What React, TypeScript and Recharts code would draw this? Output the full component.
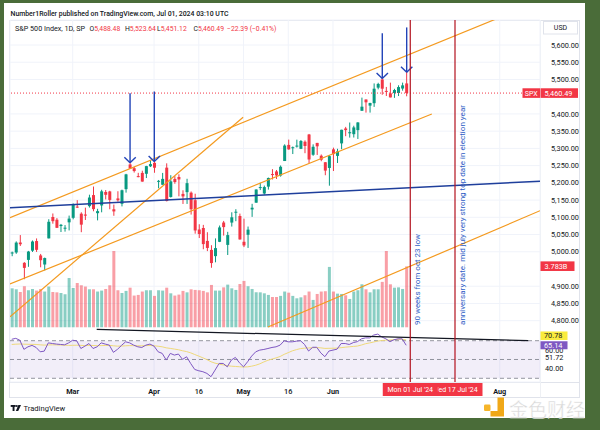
import React from 'react';
import {
  ComposedChart, Bar, Line, XAxis, YAxis, CartesianGrid,
  ReferenceLine, ReferenceArea, ReferenceDot, Cell,
} from 'recharts';

// ---------------- DATA ----------------
const dates = [
  '2024-02-08','2024-02-09','2024-02-12','2024-02-13','2024-02-14','2024-02-15','2024-02-16','2024-02-20','2024-02-21','2024-02-22',
  '2024-02-23','2024-02-26','2024-02-27','2024-02-28','2024-02-29','2024-03-01','2024-03-04','2024-03-05','2024-03-06','2024-03-07',
  '2024-03-08','2024-03-11','2024-03-12','2024-03-13','2024-03-14','2024-03-15','2024-03-18','2024-03-19','2024-03-20','2024-03-21',
  '2024-03-22','2024-03-25','2024-03-26','2024-03-27','2024-03-28','2024-04-01','2024-04-02','2024-04-03','2024-04-04','2024-04-05',
  '2024-04-08','2024-04-09','2024-04-10','2024-04-11','2024-04-12','2024-04-15','2024-04-16','2024-04-17','2024-04-18','2024-04-19',
  '2024-04-22','2024-04-23','2024-04-24','2024-04-25','2024-04-26','2024-04-29','2024-04-30','2024-05-01','2024-05-02','2024-05-03',
  '2024-05-06','2024-05-07','2024-05-08','2024-05-09','2024-05-10','2024-05-13','2024-05-14','2024-05-15','2024-05-16','2024-05-17',
  '2024-05-20','2024-05-21','2024-05-22','2024-05-23','2024-05-24','2024-05-28','2024-05-29','2024-05-30','2024-05-31','2024-06-03',
  '2024-06-04','2024-06-05','2024-06-06','2024-06-07','2024-06-10','2024-06-11','2024-06-12','2024-06-13','2024-06-14','2024-06-17',
  '2024-06-18','2024-06-20','2024-06-21','2024-06-24','2024-06-25','2024-06-26','2024-06-27','2024-06-28',
];

const opens = [
  4995.2,4997.9,5026.8,4967.9,4976.4,5003.1,5031.1,4989.3,4963.0,5038.8,
  5100.9,5093.0,5074.6,5067.2,5085.4,5098.5,5131.0,5110.5,5108.0,5132.4,
  5164.5,5112.0,5134.3,5173.5,5175.1,5123.3,5154.8,5139.1,5181.7,5253.4,
  5242.5,5219.5,5228.9,5226.3,5248.0,5258.0,5204.3,5194.4,5244.1,5159.0,
  5211.4,5217.0,5167.9,5173.0,5171.5,5149.7,5064.6,5069.0,5031.5,5005.4,
  4987.3,5028.9,5084.9,5019.9,5084.7,5114.1,5103.8,5029.0,5049.3,5122.8,
  5142.4,5187.2,5169.0,5189.0,5225.5,5233.1,5221.1,5263.3,5310.1,5303.1,
  5305.4,5298.7,5319.3,5340.3,5281.5,5315.9,5278.7,5259.8,5243.2,5297.2,
  5278.2,5314.5,5357.8,5343.8,5341.2,5353.0,5409.1,5441.9,5424.1,5431.1,
  5476.2,5500.0,5466.8,5459.6,5460.7,5460.7,5473.6,5488.5,
];
const highs = [
  5000.4,5030.1,5048.4,4969.9,5002.5,5032.7,5038.7,4993.7,4983.2,5094.4,
  5111.1,5097.7,5080.7,5077.4,5105.0,5140.3,5149.7,5114.5,5128.0,5165.6,
  5189.3,5124.7,5179.9,5179.1,5176.9,5136.9,5175.6,5180.3,5226.2,5261.1,
  5246.1,5229.1,5235.2,5249.3,5264.9,5264.0,5208.3,5228.8,5256.6,5222.2,
  5219.6,5224.8,5178.4,5211.8,5175.0,5168.4,5079.8,5078.0,5056.7,5019.0,
  5038.8,5076.1,5089.5,5057.8,5114.6,5123.5,5110.8,5096.1,5073.2,5139.1,
  5181.0,5200.2,5192.0,5215.3,5239.7,5237.3,5250.4,5311.8,5325.5,5305.5,
  5325.3,5324.3,5323.2,5341.9,5311.7,5315.9,5282.3,5260.2,5280.3,5302.1,
  5298.8,5354.2,5362.4,5375.1,5365.8,5376.0,5447.3,5441.9,5432.4,5488.5,
  5490.4,5505.5,5478.3,5490.8,5472.9,5483.1,5490.8,5523.6,
];
const lows = [
  4987.1,4994.0,5016.8,4920.3,4956.3,4999.4,4999.5,4955.0,4946.0,5038.8,
  5081.5,5068.9,5057.3,5058.4,5061.9,5094.2,5127.2,5056.8,5092.2,5128.2,
  5117.5,5091.1,5114.5,5151.9,5123.3,5104.4,5145.5,5131.6,5171.6,5240.7,
  5229.9,5216.1,5203.4,5213.9,5245.8,5229.2,5184.1,5194.4,5146.1,5157.2,
  5197.4,5160.8,5138.7,5138.8,5107.9,5052.5,5039.8,5007.3,5001.9,4953.6,
  4969.4,5028.0,5047.0,4990.6,5073.1,5088.7,5035.3,5013.5,5011.1,5101.2,
  5142.4,5179.0,5165.9,5180.4,5209.7,5211.2,5218.0,5263.3,5296.2,5283.6,
  5302.4,5297.9,5286.0,5256.9,5278.4,5280.9,5262.7,5222.1,5191.7,5234.3,
  5257.6,5297.6,5335.4,5331.3,5331.5,5327.3,5409.1,5403.8,5403.8,5420.4,
  5471.3,5455.6,5452.0,5447.9,5446.6,5451.9,5467.5,5451.1,
];
const closes = [
  4997.9,5026.6,5021.8,4953.2,5000.6,5029.7,5005.6,4975.5,4981.8,5087.0,
  5088.8,5069.5,5078.2,5069.8,5096.3,5137.1,5130.9,5078.7,5104.8,5157.4,
  5123.7,5117.9,5175.3,5165.3,5150.5,5117.1,5149.4,5178.5,5224.6,5241.5,
  5234.2,5218.2,5203.6,5248.5,5254.4,5243.8,5205.8,5211.5,5147.2,5204.3,
  5202.4,5209.9,5160.6,5199.1,5123.4,5061.8,5051.4,5022.2,5011.1,4967.2,
  5010.6,5070.6,5071.6,5048.4,5100.0,5116.2,5035.7,5018.4,5064.2,5127.8,
  5180.7,5187.7,5187.7,5214.1,5222.7,5221.4,5246.7,5308.2,5297.1,5303.3,
  5308.1,5321.4,5307.0,5267.8,5304.7,5306.0,5267.0,5235.5,5277.5,5283.4,
  5291.3,5354.0,5353.0,5347.0,5360.8,5375.3,5421.0,5433.7,5431.6,5473.2,
  5487.0,5473.2,5464.6,5447.9,5469.3,5477.9,5482.9,5460.49,
];
// volume, billions
const volumes = [
  2.42,2.36,2.19,2.55,2.30,2.38,2.28,2.38,2.22,2.53,
  2.19,2.17,2.13,2.05,3.06,2.44,2.75,2.61,2.53,2.36,
  2.36,2.22,2.28,2.38,2.61,4.74,2.30,2.13,2.26,2.46,
  1.97,2.01,2.22,2.30,2.30,1.95,2.30,2.28,2.46,2.11,
  1.97,2.03,2.26,2.17,2.36,2.32,2.30,2.26,2.17,2.63,
  2.28,2.28,2.48,2.65,2.42,2.32,2.69,2.88,2.55,2.38,
  2.17,2.17,2.11,2.01,1.88,1.88,1.95,2.22,2.15,1.95,
  1.80,1.86,1.99,2.22,1.70,2.07,2.22,2.24,3.75,2.22,
  2.09,2.07,1.99,1.76,2.22,2.30,2.67,2.36,2.17,2.36,
  2.36,2.82,4.74,2.67,2.46,2.48,2.38,3.783,
];
const rsiValues = [
  71.5,72.5,70.5,60.8,63.5,65.0,62.8,58.2,58.9,67.7,
  67.0,66.4,66.0,65.6,67.7,70.5,69.8,61.7,64.2,67.0,
  61.7,63.5,67.7,66.4,65.3,57.6,60.8,65.0,68.8,67.7,
  65.3,63.5,62.8,65.3,66.4,64.2,58.2,56.5,49.4,56.5,
  54.7,55.8,50.1,52.9,45.8,39.4,38.0,37.0,35.2,31.7,
  38.7,45.8,45.8,42.2,49.4,52.2,46.5,42.2,47.6,53.6,
  58.2,60.0,60.7,61.7,62.8,63.5,65.3,69.9,68.8,68.8,
  69.5,70.0,66.0,59.0,63.0,63.0,57.0,53.0,59.0,60.0,
  61.0,67.0,67.0,66.0,68.0,69.0,72.0,73.0,73.0,76.0,
  77.0,74.0,72.0,69.0,71.0,72.0,72.0,65.14,
];
const rsiMaValues = [
  66.0,66.3,66.5,66.3,66.2,66.1,66.0,65.6,65.3,65.5,
  65.6,65.5,65.4,65.2,65.0,65.1,65.2,65.0,64.8,65.0,
  64.9,64.7,64.8,64.9,65.0,64.6,64.2,64.3,64.6,64.8,
  64.7,64.6,64.6,64.8,64.9,64.6,64.1,63.5,62.4,61.8,
  61.1,60.4,59.3,58.4,57.1,55.3,53.6,51.8,49.9,47.6,
  46.1,45.1,44.2,43.4,42.9,42.6,42.3,42.0,42.2,42.9,
  43.9,45.4,47.4,49.2,50.4,51.7,53.2,55.5,57.3,59.2,
  60.5,61.6,62.1,62.3,62.5,62.7,62.4,61.8,61.9,62.0,
  62.1,62.6,63.1,63.5,63.9,64.3,65.4,66.8,67.6,68.6,
  69.6,70.2,70.6,70.7,71.1,71.5,71.6,70.78,
];

// time-axis ticks (trading-day index) and labels
const timeTickIndex = [16, 36, 47, 58, 69, 80, 121];
const timeTickLabels = ['Mar', 'Apr', '16', 'May', '16', 'Jun', 'Aug'];
// price-scale labels (5,450 and 4,950 sit under the value badges)
const priceTicks = [4800, 4850, 4900, 5000, 5050, 5100, 5150, 5200, 5250, 5300, 5350, 5400, 5500, 5550, 5600];
const rsiTicks = [60, 51.72, 40];
const rsiLevels = [70, 50, 30];

// drawings (trading-day index, price)
const orangeLines = [
  { x1: 0.58, y1: 5099.0, x2: 121.3, y2: 5681.3 },
  { x1: 0.58, y1: 4906.4, x2: 104.3, y2: 5399.8 },
  { x1: 0.58, y1: 4811.6, x2: 57.9, y2: 5390.2 },
  { x1: 64.0, y1: 4781.7, x2: 130.9, y2: 5119.1 },
];
const blueLines = [{ x1: 0.58, y1: 5127.6, x2: 130.9, y2: 5204.8 }];
const arrows = [
  { i: 30.1, top: 5460, tip: 5258 },
  { i: 36.06, top: 5465, tip: 5262 },
  { i: 92.12, top: 5634, tip: 5503 },
  { i: 98.12, top: 5651, tip: 5521 },
];
const rsiTrend = { x1: 21.9, y1: 82.1, x2: 128.0, y2: 70.0 };
const markers = [
  { i: 110, date: "Wed 17 Jul '24", note: 'anniversary date. mid july very strong top date in election year', len: 220 },
  { i: 99, date: "Mon 01 Jul '24", note: '90 weeks from oct 23 low', len: 91 },
];
const lastPrice = 5460.49;

// axis domains (shared plot area split into price pane + RSI pane)
const xDomain = [0.58, 130.9];
const priceDomain = [4622.06, 5672.55];
const volDomain = [-3.4, 19.09];
const rsiDomain = [26.06, 411.2];

// ---------------- STYLE ----------------
const FONT = 'Roboto, "Liberation Sans", Arial, sans-serif';
const UP = '#089981';
const DOWN = '#f23645';
const VOL_UP = 'rgba(8,153,129,0.48)';
const VOL_DOWN = 'rgba(242,54,69,0.48)';
const ORANGE = '#f49a1f';
const NAVY = '#1f3f9c';
const ARROW = '#2244b8';
const TEXT = '#131722';
const GREEN_BG = '#4a6c39';

const data = dates.map((d, k) => ({
  i: k + 1,
  date: d,
  range: [lows[k], highs[k]],
  open: opens[k],
  close: closes[k],
  vol: volumes[k],
  rsi: rsiValues[k],
  ma: rsiMaValues[k],
}));

const fmt2 = (v: number) =>
  v.toLocaleString('en-US', { minimumFractionDigits: 2, maximumFractionDigits: 2 });

const Candle = (props: any) => {
  const { x, y, width, height, payload } = props;
  if (!payload || x == null || y == null) return null;
  const top = height < 0 ? y + height : y;
  const h = Math.abs(height);
  const [lo, hi] = payload.range;
  const k = hi - lo > 0 ? h / (hi - lo) : 0;
  const yO = top + (hi - payload.open) * k;
  const yC = top + (hi - payload.close) * k;
  const color = payload.close >= payload.open ? UP : DOWN;
  const cx = x + width / 2;
  const bTop = Math.min(yO, yC);
  const bH = Math.max(1, Math.abs(yO - yC));
  return (
    <g>
      <line x1={cx} x2={cx} y1={top} y2={top + h} stroke={color} strokeWidth={1} />
      <rect x={x} y={bTop} width={width} height={bH} fill={color} />
    </g>
  );
};

const PriceTick = (p: any) => (
  <text x={p.x + 3} y={p.y + 2.6} fontSize={7.3} fill={TEXT} fontFamily={FONT}>
    {fmt2(p.payload.value)}
  </text>
);

const TimeTick = (p: any) => {
  const k = timeTickIndex.indexOf(p.payload.value);
  const label = k >= 0 ? timeTickLabels[k] : '';
  const isDay = /^\d/.test(label);
  return (
    <text x={p.x} y={393.5} textAnchor="middle" fontSize={7.3} fontWeight={isDay ? 500 : 700} fill={TEXT} fontFamily={FONT}>
      {label}
    </text>
  );
};

const markerLabel = (date: string, note: string, len: number) => (props: any) => {
  const vb = props.viewBox || {};
  const x = vb.x;
  const bottom = Math.max(vb.y, vb.y + (vb.height || 0));
  return (
    <g>
      <text
        transform={`translate(${x + 9.8}, ${bottom - 57}) rotate(-90)`}
        fontSize={7.4}
        fill="#2c5cc5"
        fontFamily={FONT}
        textLength={len}
        lengthAdjust="spacingAndGlyphs"
      >
        {note}
      </text>
      <rect x={x - 27.5} y={bottom + 1} width={55} height={13} fill={DOWN} />
      <text x={x} y={bottom + 10.3} textAnchor="middle" fontSize={7} fill="#fff" fontFamily={FONT}>
        {date}
      </text>
    </g>
  );
};

export default function App() {
  return (
    <div style={{ position: 'fixed', left: 0, top: 0, width: 600, height: 430, background: GREEN_BG, overflow: 'hidden' }}>
      <div style={{ position: 'absolute', left: 4, top: 3, width: 581, height: 415, background: '#ffffff' }} />
      <svg width={600} height={430} style={{ position: 'absolute', left: 0, top: 0 }}>
        <rect x={9.5} y={20.5} width={570} height={377} fill="none" stroke="#e0e3eb" strokeWidth={1} />
        <line x1={9.5} x2={579.5} y1={382.5} y2={382.5} stroke="#e0e3eb" />
        <line x1={540.5} x2={540.5} y1={20.5} y2={397.5} stroke="#eef0f4" />
      </svg>
      <div style={{ position: 'absolute', left: 0, top: 0 }}>
        <ComposedChart
          width={600}
          height={430}
          data={data}
          margin={{ top: 20, right: 15, left: 10, bottom: 28 }}
        >
          <CartesianGrid xAxisId="x" yAxisId="price" stroke="#f0f3fa" strokeWidth={1} />
          <XAxis
            xAxisId="x"
            dataKey="i"
            type="number"
            domain={xDomain}
            allowDataOverflow
            ticks={timeTickIndex}
            interval={0}
            axisLine={false}
            tickLine={false}
            height={20}
            tick={TimeTick}
          />
          <XAxis xAxisId="xv" dataKey="i" type="number" domain={xDomain} allowDataOverflow hide />
          <YAxis
            yAxisId="price"
            orientation="right"
            width={45}
            type="number"
            domain={priceDomain}
            allowDataOverflow
            ticks={priceTicks}
            interval={0}
            axisLine={false}
            tickLine={false}
            tick={PriceTick}
          />
          <YAxis yAxisId="rsi" type="number" domain={rsiDomain} allowDataOverflow hide />
          <YAxis yAxisId="vol" type="number" domain={volDomain} allowDataOverflow hide />

          <ReferenceArea xAxisId="x" yAxisId="rsi" y1={30} y2={70} fill="#7e57c2" fillOpacity={0.1} stroke="none" ifOverflow="visible" />
          {rsiLevels.map((lv) => (
            <ReferenceLine key={lv} xAxisId="x" yAxisId="rsi" y={lv} stroke="#787b86" strokeDasharray="4 3" strokeWidth={0.8} />
          ))}

          <Bar xAxisId="xv" yAxisId="vol" dataKey="vol" barSize={3} isAnimationActive={false}>
            {data.map((d) => (
              <Cell key={d.i} fill={d.close >= d.open ? VOL_UP : VOL_DOWN} />
            ))}
          </Bar>
          <Bar xAxisId="x" yAxisId="price" dataKey="range" barSize={3} shape={Candle} isAnimationActive={false} />

          <Line xAxisId="x" yAxisId="rsi" dataKey="ma" stroke="#efd97a" strokeWidth={1} dot={false} isAnimationActive={false} />
          <Line xAxisId="x" yAxisId="rsi" dataKey="rsi" stroke="#7e57c2" strokeWidth={1} dot={false} isAnimationActive={false} />

          <ReferenceLine xAxisId="x" yAxisId="price" y={lastPrice} stroke={DOWN} strokeDasharray="1 2" strokeWidth={1} />

          {orangeLines.map((l, k) => (
            <ReferenceLine
              key={'o' + k}
              xAxisId="x"
              yAxisId="price"
              segment={[{ x: l.x1, y: l.y1 }, { x: l.x2, y: l.y2 }]}
              stroke={ORANGE}
              strokeWidth={1.2}
              ifOverflow="hidden"
            />
          ))}
          {blueLines.map((l, k) => (
            <ReferenceLine
              key={'b' + k}
              xAxisId="x"
              yAxisId="price"
              segment={[{ x: l.x1, y: l.y1 }, { x: l.x2, y: l.y2 }]}
              stroke={NAVY}
              strokeWidth={1.5}
              ifOverflow="hidden"
            />
          ))}
          {arrows.map((a, k) => (
            <React.Fragment key={'a' + k}>
              <ReferenceLine xAxisId="x" yAxisId="price" segment={[{ x: a.i, y: a.top }, { x: a.i, y: a.tip }]} stroke={ARROW} strokeWidth={1.4} ifOverflow="visible" />
              <ReferenceLine xAxisId="x" yAxisId="price" segment={[{ x: a.i - 1.4, y: a.tip + 16 }, { x: a.i, y: a.tip }]} stroke={ARROW} strokeWidth={1.4} ifOverflow="visible" />
              <ReferenceLine xAxisId="x" yAxisId="price" segment={[{ x: a.i + 1.4, y: a.tip + 16 }, { x: a.i, y: a.tip }]} stroke={ARROW} strokeWidth={1.4} ifOverflow="visible" />
            </React.Fragment>
          ))}

          <ReferenceLine
            xAxisId="x"
            yAxisId="rsi"
            segment={[{ x: rsiTrend.x1, y: rsiTrend.y1 }, { x: rsiTrend.x2, y: rsiTrend.y2 }]}
            stroke={TEXT}
            strokeWidth={1.3}
            ifOverflow="visible"
          />

          {markers.map((m) => (
            <ReferenceLine
              key={m.i}
              xAxisId="x"
              yAxisId="price"
              x={m.i}
              stroke="#b2121e"
              strokeWidth={1.2}
              label={markerLabel(m.date, m.note, m.len)}
            />
          ))}

          {rsiTicks.map((t) => (
            <ReferenceDot
              key={'rt' + t}
              xAxisId="x"
              yAxisId="rsi"
              x={xDomain[1]}
              y={t}
              ifOverflow="visible"
              shape={(p: any) => (
                <text x={p.cx + 5} y={p.cy + 2.6} fontSize={7.3} fill={TEXT} fontFamily={FONT}>{fmt2(t)}</text>
              )}
            />
          ))}

          <ReferenceDot
            xAxisId="x"
            yAxisId="price"
            x={xDomain[1]}
            y={lastPrice}
            ifOverflow="visible"
            shape={(p: any) => (
              <g>
                <rect x={p.cx - 17.5} y={p.cy - 4.8} width={17.5} height={9.6} fill={DOWN} />
                <text x={p.cx - 8.7} y={p.cy + 2.5} textAnchor="middle" fontSize={7} fill="#fff" fontFamily={FONT}>SPX</text>
                <rect x={p.cx + 0.5} y={p.cy - 4.8} width={37.5} height={9.6} fill={DOWN} />
                <text x={p.cx + 4.5} y={p.cy + 2.6} fontSize={7.3} fill="#fff" fontFamily={FONT}>{fmt2(lastPrice)}</text>
              </g>
            )}
          />
          <ReferenceDot
            xAxisId="xv"
            yAxisId="vol"
            x={xDomain[1]}
            y={volumes[volumes.length - 1]}
            ifOverflow="visible"
            shape={(p: any) => (
              <g>
                <rect x={p.cx + 0.5} y={p.cy - 5} width={34} height={9.6} fill={DOWN} />
                <text x={p.cx + 4.5} y={p.cy + 2.4} fontSize={7.3} fill="#fff" fontFamily={FONT}>
                  {volumes[volumes.length - 1].toFixed(3) + 'B'}
                </text>
              </g>
            )}
          />
          <ReferenceDot
            xAxisId="x"
            yAxisId="rsi"
            x={xDomain[1]}
            y={rsiMaValues[rsiMaValues.length - 1]}
            ifOverflow="visible"
            shape={(p: any) => (
              <g>
                <rect x={p.cx + 0.5} y={p.cy - 8.5} width={27} height={8.5} fill="#f9eb3d" />
                <text x={p.cx + 4} y={p.cy - 1.6} fontSize={7.3} fill={TEXT} fontFamily={FONT}>
                  {fmt2(rsiMaValues[rsiMaValues.length - 1])}
                </text>
              </g>
            )}
          />
          <ReferenceDot
            xAxisId="x"
            yAxisId="rsi"
            x={xDomain[1]}
            y={rsiValues[rsiValues.length - 1]}
            ifOverflow="visible"
            shape={(p: any) => (
              <g>
                <rect x={p.cx + 0.5} y={p.cy - 4} width={27} height={8} fill="#7e57c2" />
                <text x={p.cx + 4} y={p.cy + 2.6} fontSize={7.3} fill="#fff" fontFamily={FONT}>
                  {fmt2(rsiValues[rsiValues.length - 1])}
                </text>
              </g>
            )}
          />
        </ComposedChart>
      </div>
      <svg width={600} height={430} style={{ position: 'absolute', left: 0, top: 0, pointerEvents: 'none' }}>
        <text x={10.5} y={16.2} fontSize={7} fontWeight={500} fill={TEXT} fontFamily={FONT} textLength={218} lengthAdjust="spacingAndGlyphs">
          Number1Roller published on TradingView.com, Jul 01, 2024 03:10 UTC
        </text>
        <g fontSize={6.8} fontFamily={FONT}>
          <text x={15} y={30.5} fill={TEXT} textLength={70} lengthAdjust="spacingAndGlyphs">S&amp;P 500 Index, 1D, SP</text>
          <text x={89.5} y={30.5} fill={TEXT}>O<tspan fill={DOWN}>5,488.48</tspan></text>
          <text x={125} y={30.5} fill={TEXT}>H<tspan fill={DOWN}>5,523.64</tspan></text>
          <text x={157} y={30.5} fill={TEXT}>L<tspan fill={DOWN}>5,451.12</tspan></text>
          <text x={193.5} y={30.5} fill={TEXT}>C<tspan fill={DOWN}>5,460.49</tspan></text>
          <text x={227} y={30.5} fill={DOWN}>−22.39 (−0.41%)</text>
        </g>
        <rect x={543.5} y={21.5} width={34} height={12.5} fill="#fff" stroke="#e0e3eb" />
        <text x={560.5} y={30.3} textAnchor="middle" fontSize={7} fill={TEXT} fontFamily={FONT}>USD</text>

        <g fill={TEXT}>
          <rect x={10.7} y={405} width={5} height={1.9} />
          <rect x={12.6} y={405} width={1.9} height={6} />
          <circle cx={16.8} cy={406} r={1} />
          <polygon points="18.4,405 21,405 18.2,411 15.8,411" />
        </g>
        <text x={23.5} y={410.8} fontSize={7.6} fill={TEXT} fontFamily={FONT}>TradingView</text>

        <rect x={484} y={404.5} width={6.5} height={6.5} rx={1.2} fill="#f6b52a" />
        <path d="M497.5 397.5 h6.5 v19 h-13.5 v-5.5 h7 z" fill="#f0a818" />
        <text x={509} y={416.5} fontSize={19} fill="#d8d8d8" stroke="#ffffff" strokeWidth={0.4} fontFamily='"Noto Sans CJK SC", sans-serif'>金色财经</text>
      </svg>
    </div>
  );
}
